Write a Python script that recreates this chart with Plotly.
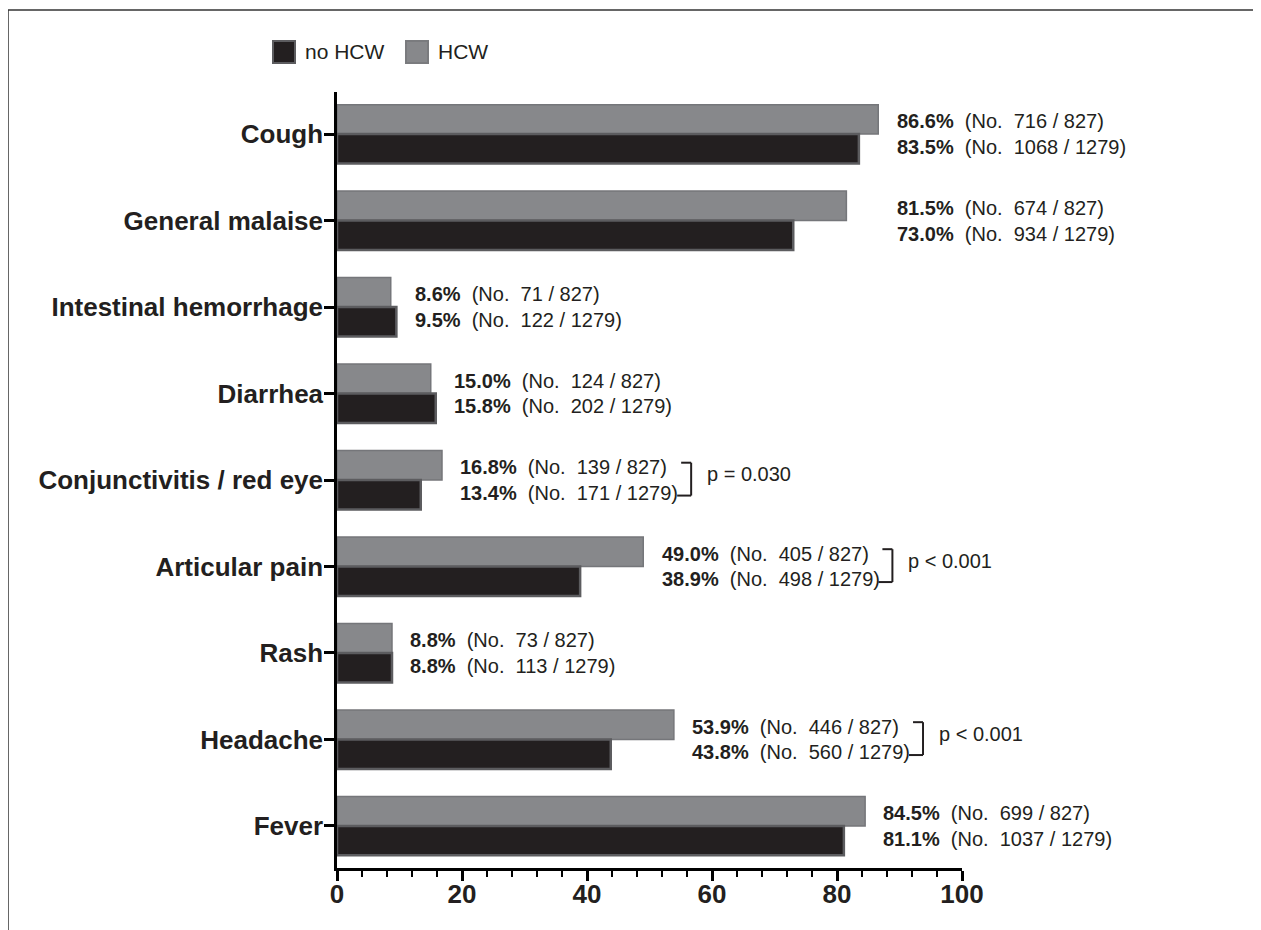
import plotly.graph_objects as go

# ---------------- data ----------------
categories = ["Cough", "General malaise", "Intestinal hemorrhage", "Diarrhea",
              "Conjunctivitis / red eye", "Articular pain", "Rash", "Headache", "Fever"]
hcw_pct = [86.6, 81.5, 8.6, 15.0, 16.8, 49.0, 8.8, 53.9, 84.5]
hcw_n = [716, 674, 71, 124, 139, 405, 73, 446, 699]
nohcw_pct = [83.5, 73.0, 9.5, 15.8, 13.4, 38.9, 8.8, 43.8, 81.1]
nohcw_n = [1068, 934, 122, 202, 171, 498, 113, 560, 1037]
HCW_TOTAL = 827
NOHCW_TOTAL = 1279
p_values = [None, "p < 0.001", None, None, "p = 0.030", "p < 0.001", None, "p < 0.001", "p = 0.043"]
x_ticks = [0, 20, 40, 60, 80, 100]
series_names = ["no HCW", "HCW"]

# ---------------- style ----------------
OFF = 8  # page body margin of the browser
W, H = 1261 - OFF, 930 - OFF
ML, MT = 337 - OFF, 92 - OFF
PW, PH = 625, 776
MR, MB = W - ML - PW, H - MT - PH
PX_PER_UNIT = PW / 100.0
FONT = "Liberation Sans, Arial, Helvetica, sans-serif"
DARK = "#231f20"
GRAY = "#87888b"
TXT = "#231f20"
NB = "\u00a0"


def xp(px):
    """reference-image pixel x -> paper coordinate"""
    return (px - OFF - ML) / PW


def yp(py):
    """reference-image pixel y -> paper coordinate"""
    return (MT + PH - (py - OFF)) / PH


# Arial / Liberation Sans advance widths (em)
_w = {".": .278, " ": .278, NB: .278, "(": .333, ")": .333, "N": .722, "o": .556,
      "/": .278, "%": .889}


def text_w(s, size=20):
    return sum(_w.get(c, .556) for c in s) * size


fig = go.Figure()
fig.add_trace(go.Bar(
    y=categories, x=hcw_pct, orientation="h", name=series_names[1],
    marker=dict(color=GRAY, line=dict(color="#75767a", width=1.5)),
    showlegend=False, hoverinfo="skip"))
fig.add_trace(go.Bar(
    y=categories, x=nohcw_pct, orientation="h", name=series_names[0],
    marker=dict(color=DARK, line=dict(color="#5c5c5f", width=2.5)),
    showlegend=False, hoverinfo="skip"))

annotations = []
shapes = []

label_x = [max(a, b) + 2.6 for a, b in zip(hcw_pct, nohcw_pct)]
label_x[1] = label_x[0]  # General malaise labels aligned with Cough's in the original

for i in range(len(categories)):
    l1b = f"{hcw_pct[i]:.1f}%"
    l1r = f"{NB}{NB}(No.{NB}{NB}{hcw_n[i]} / {HCW_TOTAL})"
    l2b = f"{nohcw_pct[i]:.1f}%"
    l2r = f"{NB}{NB}(No.{NB}{NB}{nohcw_n[i]} / {NOHCW_TOTAL})"
    for txt, yy in ((f"<b>{l1b}</b>{l1r}", i - 0.145), (f"<b>{l2b}</b>{l2r}", i + 0.15)):
        annotations.append(dict(x=label_x[i], y=yy, xref="x", yref="y", text=txt,
                                showarrow=False, xanchor="left", yanchor="middle",
                                font=dict(family=FONT, size=20, color=TXT)))
    if p_values[i]:
        w2 = text_w(l2b) + text_w(l2r)
        x_end = label_x[i] + (w2 + 1) / PX_PER_UNIT
        bx = label_x[i] + (w2 + 15) / PX_PER_UNIT
        ytop, ybot = i - 0.20, i + 0.18
        line = dict(color=TXT, width=2)
        shapes.append(dict(type="line", xref="x", yref="y", x0=bx, x1=bx, y0=ytop, y1=ybot, line=line))
        shapes.append(dict(type="line", xref="x", yref="y", x0=bx - 10 / PX_PER_UNIT, x1=bx,
                           y0=ytop, y1=ytop, line=line))
        shapes.append(dict(type="line", xref="x", yref="y", x0=x_end, x1=bx,
                           y0=ybot, y1=ybot, line=line))
        annotations.append(dict(x=bx + 14 / PX_PER_UNIT, y=i - 0.065, xref="x", yref="y",
                                text=p_values[i], showarrow=False, xanchor="left",
                                yanchor="middle", font=dict(family=FONT, size=20, color=TXT)))

# custom legend (large squares)
leg = [(series_names[0], DARK, "#5c5c5f", 273), (series_names[1], GRAY, "#7a7b7e", 406)]
for name, col, lc, x0 in leg:
    shapes.append(dict(type="rect", xref="paper", yref="paper", x0=xp(x0), x1=xp(x0 + 22),
                       y0=yp(63), y1=yp(41), fillcolor=col, line=dict(color=lc, width=2)))
    annotations.append(dict(x=xp(x0 + 30), y=yp(52), xref="paper", yref="paper", text=name,
                            showarrow=False, xanchor="left", yanchor="middle",
                            font=dict(family=FONT, size=21, color=TXT)))

# frame (top and left border of the original figure)
shapes.append(dict(type="line", xref="paper", yref="paper", x0=xp(8), x1=xp(1275),
                   y0=yp(10), y1=yp(10), line=dict(color="#333333", width=1.5)))
shapes.append(dict(type="line", xref="paper", yref="paper", x0=xp(8), x1=xp(8),
                   y0=yp(10), y1=yp(945), line=dict(color="#333333", width=1.5)))

fig.update_layout(
    width=W, height=H,
    margin=dict(l=ML, r=MR, t=MT, b=MB, pad=0),
    paper_bgcolor="white", plot_bgcolor="white",
    barmode="group", bargap=0.32, bargroupgap=0.0,
    showlegend=False,
    annotations=annotations, shapes=shapes,
    xaxis=dict(range=[0, 100], tickvals=x_ticks, ticktext=[str(v) for v in x_ticks],
               showgrid=False, zeroline=False, showline=True, linecolor="black", linewidth=2.5,
               ticks="outside", ticklen=10, tickwidth=2.5, tickcolor="black",
               ticklabelstandoff=-9,
               tickfont=dict(family=FONT, size=26, color=TXT, weight="bold"),
               minor=dict(dtick=4, tick0=0, ticks="outside", ticklen=6, tickwidth=2,
                          tickcolor="black", showgrid=False),
               fixedrange=True),
    yaxis=dict(type="category", categoryorder="array", categoryarray=categories,
               range=[8.486, -0.486], showgrid=False, zeroline=False,
               showline=True, linecolor="black", linewidth=2.5,
               ticks="outside", ticklen=10, tickwidth=2.5, tickcolor="black",
               ticklabelstandoff=-4,
               tickfont=dict(family=FONT, size=26, color=TXT, weight="bold"),
               fixedrange=True),
)

fig.write_html("out.html")
